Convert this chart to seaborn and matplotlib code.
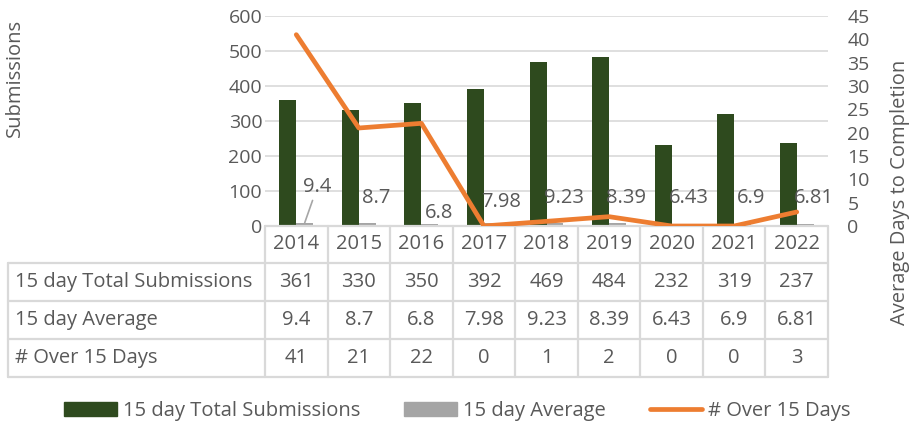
import numpy as np
import pandas as pd
import matplotlib
matplotlib.use("Agg")
import matplotlib.pyplot as plt
import matplotlib.transforms as mtransforms
import seaborn as sns
from matplotlib.patches import Patch
from matplotlib.lines import Line2D

# data
years = ["2014", "2015", "2016", "2017", "2018", "2019", "2020", "2021", "2022"]
total_submissions = [361, 330, 350, 392, 469, 484, 232, 319, 237]
avg_days = [9.4, 8.7, 6.8, 7.98, 9.23, 8.39, 6.43, 6.9, 6.81]
avg_labels = ["9.4", "8.7", "6.8", "7.98", "9.23", "8.39", "6.43", "6.9", "6.81"]
over_15 = [41, 21, 22, 0, 1, 2, 0, 0, 3]
series_names = ["15 day Total Submissions", "15 day Average", "# Over 15 Days"]

# label heights for the average values (left axis units)
avg_label_y = [111, 80, 37, 69, 80, 80, 80, 80, 80]

GREEN = "#2E4A1E"
GRAY = "#A5A5A5"
ORANGE = "#ED7D31"
TXT = "#595959"
GRID = "#D9D9D9"
FS = 14.5

sns.set_theme(style="white")
plt.rcParams["font.family"] = ["Open Sans", "DejaVu Sans"]

fig = plt.figure(figsize=(9.15, 4.26), dpi=100)
ax = fig.add_axes([265 / 915, 1 - 226 / 426, 563 / 915, 210 / 426])

df = pd.DataFrame({
    "year": years * 2,
    "value": total_submissions + avg_days,
    "series": [series_names[0]] * len(years) + [series_names[1]] * len(years),
})
sns.barplot(data=df, x="year", y="value", hue="series", palette=[GREEN, GRAY],
            width=0.54, saturation=1, linewidth=0, legend=False, ax=ax)

ax.set_xlim(-0.5, len(years) - 0.5)
ax.set_ylim(0, 600)
ax.set_yticks(np.arange(0, 601, 100))
ax.yaxis.grid(True, color=GRID, lw=1.2)
ax.set_axisbelow(True)
ax.set_xticks([])
ax.set_xlabel("")
ax.set_ylabel("")
ax.tick_params(axis="y", length=0, pad=2, labelcolor=TXT, labelsize=FS - 0.5)
for s in ax.spines.values():
    s.set_visible(False)

# value labels of the small average bars
for i, lab in enumerate(avg_labels):
    xb = i + 0.135
    if i == 0:
        ax.annotate(lab, xy=(xb, avg_days[i]), xytext=(xb + 0.2, avg_label_y[i]),
                    ha="center", va="center", fontsize=FS, color=TXT,
                    arrowprops=dict(arrowstyle="-", color="#A6A6A6", lw=1.2,
                                    shrinkA=0, shrinkB=0))
    else:
        ax.text(xb + 0.14, avg_label_y[i], lab, ha="center", va="center",
                fontsize=FS, color=TXT)

ax2 = ax.twinx()
sns.lineplot(x=np.arange(len(years)), y=over_15, color=ORANGE, lw=3.4, ax=ax2)
ax2.set_ylim(0, 45)
ax2.set_yticks(np.arange(0, 46, 5))
ax2.tick_params(axis="y", length=0, pad=14, labelcolor=TXT, labelsize=FS - 0.5)
ax2.set_xlim(-0.5, len(years) - 0.5)
for s in ax2.spines.values():
    s.set_visible(False)

# data table under the plot
trans = mtransforms.blended_transform_factory(ax.transData, ax.transAxes)
row_edges = [-0.175, -0.356, -0.538, -0.719]
x_left = -0.5 - (265 - 8) / 62.55
x_right = len(years) - 0.5
kw = dict(transform=trans, clip_on=False, color=GRID, lw=1.6)
ax.plot([-0.5, x_right], [0, 0], **kw)
for y in row_edges:
    ax.plot([x_left, x_right], [y, y], **kw)
for i in range(len(years) + 1):
    ax.plot([i - 0.5, i - 0.5], [0, row_edges[-1]], **kw)
ax.plot([x_left, x_left], [row_edges[0], row_edges[-1]], **kw)

for i, yr in enumerate(years):
    ax.text(i, row_edges[0] / 2, yr, transform=trans, ha="center", va="center",
            fontsize=FS, color=TXT)
rows = [total_submissions, avg_labels, over_15]
for r, (name, vals) in enumerate(zip(series_names, rows)):
    yc = (row_edges[r] + row_edges[r + 1]) / 2
    ax.text(x_left + 0.11, yc, name, transform=trans, ha="left", va="center",
            fontsize=FS, color=TXT)
    for i, v in enumerate(vals):
        ax.text(i, yc, str(v), transform=trans, ha="center", va="center",
                fontsize=FS, color=TXT)

fig.text(15 / 915, 1 - 78 / 426, "Submissions", rotation=90, ha="center",
         va="center", fontsize=FS, color=TXT)
fig.text(900 / 915, 1 - 192 / 426, "Average Days to Completion", rotation=90,
         ha="center", va="center", fontsize=FS, color=TXT)

handles = [Patch(color=GREEN), Patch(color=GRAY), Line2D([], [], color=ORANGE, lw=3.4)]
fig.legend(handles, series_names, loc="center", bbox_to_anchor=(0.5, 1 - 411 / 426),
           ncol=3, frameon=False, fontsize=FS, labelcolor=TXT, handlelength=2.6,
           handleheight=0.7, handletextpad=0.3, columnspacing=2.2)

fig.savefig("out.png", dpi=100)
